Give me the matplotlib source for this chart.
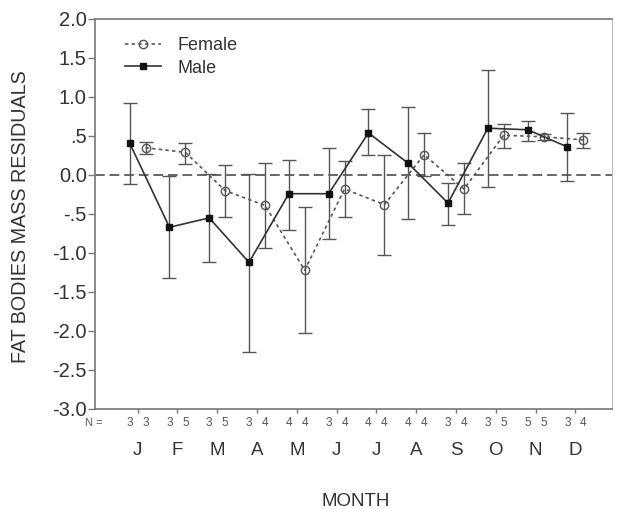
import numpy as np
import matplotlib
matplotlib.use('Agg')
import matplotlib.pyplot as plt
import matplotlib.ticker as ticker
from matplotlib.transforms import blended_transform_factory

plt.rcParams.update({
    'font.family': 'sans-serif',
    'font.sans-serif': ['Liberation Sans', 'Arial', 'DejaVu Sans'],
    'text.color': '#333333',
    'axes.edgecolor': '#777777',
    'xtick.color': '#777777',
    'ytick.color': '#777777',
    'xtick.labelcolor': '#333333',
    'ytick.labelcolor': '#333333',
})

# ---------------------------------------------------------------------------
# DATA
# ---------------------------------------------------------------------------
months = ['J', 'F', 'M', 'A', 'M', 'J', 'J', 'A', 'S', 'O', 'N', 'D']

male_mean = [0.41, -0.67, -0.55, -1.12, -0.24, -0.24, 0.54, 0.15, -0.36, 0.60, 0.58, 0.36]
male_hi   = [0.92, -0.01,  0.01,  0.01,  0.19,  0.35, 0.84, 0.87, -0.10, 1.34, 0.69, 0.79]
male_lo   = [-0.12, -1.32, -1.11, -2.27, -0.70, -0.82, 0.25, -0.57, -0.64, -0.15, 0.44, -0.08]

female_mean = [0.35, 0.29, -0.20, -0.39, -1.22, -0.18, -0.38, 0.26, -0.18, 0.51, 0.49, 0.45]
female_hi   = [0.42, 0.41,  0.13,  0.15, -0.41,  0.18,  0.26, 0.54,  0.15, 0.65, 0.53, 0.54]
female_lo   = [0.27, 0.14, -0.54, -0.93, -2.03, -0.54, -1.03, -0.01, -0.50, 0.35, 0.45, 0.34]

n_male   = [3, 3, 3, 3, 4, 3, 4, 4, 3, 3, 5, 3]
n_female = [3, 5, 5, 4, 4, 4, 4, 4, 4, 5, 5, 4]

y_ticks = [2.0, 1.5, 1.0, 0.5, 0.0, -0.5, -1.0, -1.5, -2.0, -2.5, -3.0]


def spss_fmt(v, pos):
    s = f"{v:.1f}"
    if s in ('0.5', '-0.5'):
        s = s.replace('0.', '.')
    return s


def main():
    fig = plt.figure(figsize=(6.17, 5.09), dpi=100)
    ax = fig.add_axes([95 / 617, 1 - 409 / 509, 517 / 617, 390 / 509])

    x = np.arange(len(months))
    off = 0.2
    xm = x - off
    xf = x + off

    # zero reference line
    ax.axhline(0, color='#666666', linestyle=(0, (5, 2.5)), linewidth=1.4, zorder=1)

    # error bars
    mm = np.array(male_mean)
    fm = np.array(female_mean)
    ax.errorbar(xm, mm, yerr=[mm - np.array(male_lo), np.array(male_hi) - mm],
                fmt='none', ecolor='#555555', elinewidth=1.0, capsize=4.8,
                capthick=1.0, zorder=2)
    ax.errorbar(xf, fm, yerr=[fm - np.array(female_lo), np.array(female_hi) - fm],
                fmt='none', ecolor='#555555', elinewidth=1.0, capsize=4.8,
                capthick=1.0, zorder=2)

    # series
    ax.plot(xf, fm, linestyle=(0, (2, 2)), color='#555555', linewidth=1.2,
            marker='o', markersize=6, markerfacecolor='none',
            markeredgecolor='#555555', markeredgewidth=1.0, label='Female', zorder=3)
    ax.plot(xm, mm, linestyle='-', color='#333333', linewidth=1.2,
            marker='s', markersize=5, markerfacecolor='#111111',
            markeredgecolor='#111111', label='Male', zorder=4)

    ax.set_xlim(-1.07, 11.92)
    ax.set_ylim(-3.0, 2.0)
    ax.set_xticks(x)
    ax.set_xticklabels(months, fontsize=13.5)
    ax.set_yticks(y_ticks)
    ax.yaxis.set_major_formatter(ticker.FuncFormatter(spss_fmt))
    ax.tick_params(axis='y', direction='out', length=5, width=1, labelsize=14.5, pad=1)
    ax.tick_params(axis='x', direction='out', length=3, width=1, pad=21)
    for s in ['left', 'bottom', 'top']:
        ax.spines[s].set_linewidth(1.2)
    ax.spines['right'].set_color('#bbbbbb')

    # N counts under each month
    tr = blended_transform_factory(ax.transData, ax.transAxes)
    ax.text(-1.10, -0.036, 'N =', transform=tr, ha='center', va='center',
            fontsize=8, color='#555555')
    for i in range(len(months)):
        ax.text(xm[i], -0.036, str(n_male[i]), transform=tr, ha='center',
                va='center', fontsize=8.5, color='#555555')
        ax.text(xf[i], -0.036, str(n_female[i]), transform=tr, ha='center',
                va='center', fontsize=8.5, color='#555555')

    ax.legend(loc='upper left', bbox_to_anchor=(0.03, 0.99), frameon=False,
              fontsize=13, handlelength=2.0, handletextpad=0.9,
              labelspacing=0.3, borderpad=0.3)

    fig.text(21 / 617, 1 - 217 / 509, 'FAT BODIES MASS RESIDUALS', rotation=90,
             ha='center', va='center', fontsize=14.2)
    fig.text(356 / 617, 1 - 502 / 509, 'MONTH', ha='center', va='center',
             fontsize=13.5)

    fig.savefig('out.png', dpi=100)
    plt.close(fig)


if __name__ == '__main__':
    main()
